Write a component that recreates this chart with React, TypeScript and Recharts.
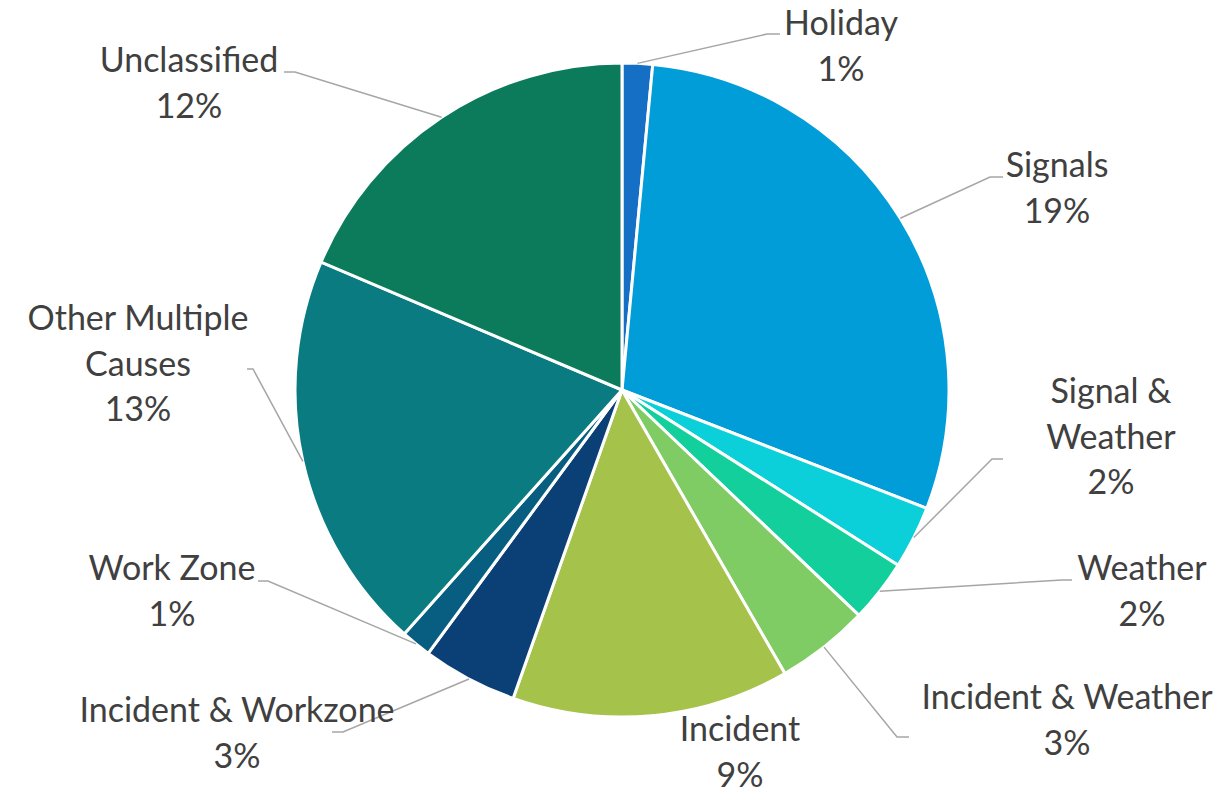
import { PieChart, Pie, Cell } from 'recharts';

// Slice shares as drawn (the label percentages come from a larger total)
const causes = [
  'Holiday',
  'Signals',
  'Signal & Weather',
  'Weather',
  'Incident & Weather',
  'Incident',
  'Incident & Workzone',
  'Work Zone',
  'Other Multiple Causes',
  'Unclassified',
];
const shares = [1.5, 29.4, 3.1, 3.1, 4.6, 13.7, 4.7, 1.5, 19.8, 18.6];
const pctLabels = ['1%', '19%', '2%', '2%', '3%', '9%', '3%', '1%', '13%', '12%'];
const labelLines = [
  ['Holiday'],
  ['Signals'],
  ['Signal &', 'Weather'],
  ['Weather'],
  ['Incident & Weather'],
  ['Incident'],
  ['Incident & Workzone'],
  ['Work Zone'],
  ['Other Multiple', 'Causes'],
  ['Unclassified'],
];
const colors = [
  '#156FC5',
  '#009DD9',
  '#0BD0D9',
  '#12CF9B',
  '#7ECC63',
  '#A5C24A',
  '#0B4076',
  '#075E80',
  '#0A7B80',
  '#0C7B5C',
];

// Label placement relative to the pie centre (text centre x, first baseline y, elbow, tail)
const labelLayout = [
  { tx: 219, ty: -355, elbow: [145, -356], tail: [158, -356] },
  { tx: 435, ty: -213, elbow: [368, -213], tail: [381, -213] },
  { tx: 489, ty: 13, elbow: [370, 69], tail: [381, 69] },
  { tx: 520, ty: 190, elbow: [440, 190], tail: [450, 190] },
  { tx: 445, ty: 319, elbow: [275, 347], tail: [287, 347] },
  { tx: 118, ty: 351, elbow: null, tail: null },
  { tx: -385, ty: 332, elbow: [-279, 342], tail: [-290, 342] },
  { tx: -450, ty: 190, elbow: [-354, 191], tail: [-364, 191] },
  { tx: -484, ty: -60, elbow: [-369, -21], tail: [-375, -21] },
  { tx: -433, ty: -318, elbow: [-327, -318], tail: [-338, -318] },
];

const data = causes.map((name, i) => ({ name, value: shares[i] }));

const RAD = Math.PI / 180;
const LINE_H = 45.5;

const renderLabel = (props: any) => {
  const { cx, cy, midAngle, outerRadius, index } = props;
  const lay = labelLayout[index];
  const lines = [...labelLines[index], pctLabels[index]];
  const sx = cx + outerRadius * Math.cos(-midAngle * RAD);
  const sy = cy + outerRadius * Math.sin(-midAngle * RAD);
  return (
    <g key={`lbl-${index}`}>
      {lay.elbow && (
        <polyline
          points={`${sx},${sy} ${cx + lay.elbow[0]},${cy + lay.elbow[1]} ${cx + lay.tail![0]},${cy + lay.tail![1]}`}
          fill="none"
          stroke="#A6A6A6"
          strokeWidth={1.5}
        />
      )}
      <text
        x={cx + lay.tx}
        y={cy + lay.ty}
        textAnchor="middle"
        fill="#404040"
        fontSize={34}
        fontFamily="Lato, sans-serif"
      >
        {lines.map((t, j) => (
          <tspan key={j} x={cx + lay.tx} dy={j === 0 ? 0 : LINE_H}>
            {t}
          </tspan>
        ))}
      </text>
    </g>
  );
};

export default function App() {
  return (
    <div style={{ position: 'absolute', left: 0, top: 0, width: 1224, height: 792, background: '#fff' }}>
      <PieChart width={1224} height={792} margin={{ top: 0, right: 0, bottom: 0, left: 0 }}>
        <Pie
          data={data}
          dataKey="value"
          nameKey="name"
          cx={622}
          cy={390}
          outerRadius={327}
          startAngle={90}
          endAngle={-270}
          stroke="#FFFFFF"
          strokeWidth={3}
          labelLine={false}
          label={renderLabel}
          isAnimationActive={false}
        >
          {data.map((entry, i) => (
            <Cell key={`cell-${i}`} fill={colors[i]} />
          ))}
        </Pie>
      </PieChart>
    </div>
  );
}
